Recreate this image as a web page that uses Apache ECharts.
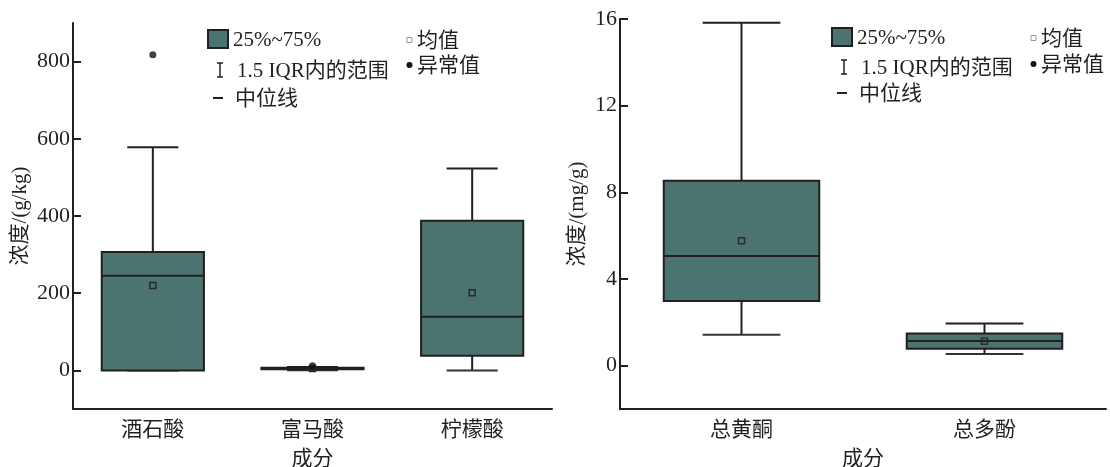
<!DOCTYPE html>
<html>
<head>
<meta charset="utf-8">
<script src="https://cdn.jsdelivr.net/npm/echarts@6/dist/echarts.min.js"></script>
<style>
  html, body { margin: 0; padding: 0; background: #fff; }
  #chart { width: 1110px; height: 467px; }
</style>
</head>
<body>
<div id="chart"></div>
<script>
// Organic acids (g/kg)
const acidCategories = ['酒石酸', '富马酸', '柠檬酸'];
const acidLow    = [0,   0.5, 0];
const acidQ1     = [0,   3,   38];
const acidMedian = [245, 5,   139];
const acidQ3     = [307, 7,   388];
const acidHigh   = [578, 8.5, 523];
const acidMean   = [220, 5,   201];
const acidOutliers = [[0, 818], [1, 12]];
const acidTicks  = [0, 200, 400, 600, 800];

// Flavonoids / polyphenols (mg/g)
const phenolCategories = ['总黄酮', '总多酚'];
const phenolLow    = [1.43, 0.54];
const phenolQ1     = [2.98, 0.78];
const phenolMedian = [5.06, 1.14];
const phenolQ3     = [8.53, 1.49];
const phenolHigh   = [15.83, 1.95];
const phenolMean   = [5.76, 1.13];
const phenolOutliers = [];
const phenolTicks  = [0, 4, 8, 12, 16];

const BOX_FILL = '#4b736f';
const INK = '#231f20';
const FONT = "'Liberation Serif', 'Noto Sans CJK SC', serif";

function boxRows(low, q1, med, q3, high, mean) {
  return low.map((v, i) => [i, v, q1[i], med[i], q3[i], high[i], mean[i]]);
}

function renderBox(params, api) {
  const c = api.value(0);
  const pLow = api.coord([c, api.value(1)]);
  const pQ1 = api.coord([c, api.value(2)]);
  const pMed = api.coord([c, api.value(3)]);
  const pQ3 = api.coord([c, api.value(4)]);
  const pHigh = api.coord([c, api.value(5)]);
  const pMean = api.coord([c, api.value(6)]);
  const band = api.size([1, 0])[0];
  const boxW = band * 0.64;
  const capW = band * 0.32;
  const x = pMed[0];
  const lineStyle = { stroke: INK, lineWidth: 2 };
  return {
    type: 'group',
    children: [
      { type: 'line', shape: { x1: x, y1: pQ3[1], x2: x, y2: pHigh[1] }, style: lineStyle },
      { type: 'line', shape: { x1: x, y1: pQ1[1], x2: x, y2: pLow[1] }, style: lineStyle },
      { type: 'line', shape: { x1: x - capW / 2, y1: pHigh[1], x2: x + capW / 2, y2: pHigh[1] }, style: lineStyle },
      { type: 'line', shape: { x1: x - capW / 2, y1: pLow[1], x2: x + capW / 2, y2: pLow[1] }, style: { stroke: '#333', lineWidth: 2 } },
      { type: 'rect', shape: { x: x - boxW / 2, y: pQ3[1], width: boxW, height: pQ1[1] - pQ3[1] },
        style: { fill: BOX_FILL, stroke: INK, lineWidth: 2 } },
      { type: 'line', shape: { x1: x - boxW / 2, y1: pMed[1], x2: x + boxW / 2, y2: pMed[1] }, style: lineStyle },
      { type: 'rect', shape: { x: x - 3, y: pMean[1] - 3, width: 6, height: 6 },
        style: { fill: 'none', stroke: '#2a2a2a', lineWidth: 1.5 } }
    ]
  };
}

function legend(bx, y1, y2, y3, yc1, yc2) {
  const t = (x, y, s) => ({ type: 'text', x: x, y: y,
    style: { text: s, font: '21px ' + FONT, fill: INK, verticalAlign: 'middle', align: 'left' } });
  const ln = (x1, yA, x2, yB, w) => ({ type: 'line', shape: { x1: x1, y1: yA, x2: x2, y2: yB },
    style: { stroke: INK, lineWidth: w || 1.5 } });
  return [
    { type: 'rect', shape: { x: bx, y: y1 - 9, width: 20, height: 18 },
      style: { fill: BOX_FILL, stroke: INK, lineWidth: 2 } },
    t(bx + 25, y1 + 1, '25%~75%'),
    ln(bx + 12, y2 - 7, bx + 12, y2 + 7),
    ln(bx + 9, y2 - 7, bx + 15, y2 - 7),
    ln(bx + 9, y2 + 7, bx + 15, y2 + 7),
    t(bx + 29, y2 + 1, '1.5 IQR内的范围'),
    ln(bx + 5, y3, bx + 15, y3, 2),
    t(bx + 27, y3 + 1, '中位线'),
    { type: 'rect', shape: { x: bx + 199, y: yc1 - 2.5, width: 5, height: 5 },
      style: { fill: '#fff', stroke: '#999', lineWidth: 1 } },
    t(bx + 209, yc1 + 1, '均值'),
    { type: 'circle', shape: { cx: bx + 201.5, cy: yc2, r: 3 }, style: { fill: '#111' } },
    t(bx + 209, yc2 + 1, '异常值')
  ];
}

function xAxisOpt(gridIndex, cats) {
  return {
    type: 'category', gridIndex: gridIndex, data: cats,
    name: '成分', nameLocation: 'middle', nameGap: 40,
    nameTextStyle: { fontFamily: FONT, fontSize: 21, color: INK },
    axisLine: { onZero: false, lineStyle: { color: INK, width: 2 } },
    axisTick: { alignWithLabel: true, inside: true, length: 8, lineStyle: { color: INK, width: 2 } },
    axisLabel: { fontFamily: FONT, fontSize: 21, color: INK, margin: 11 },
    splitLine: { show: false }
  };
}

function yAxisOpt(gridIndex, name, min, max, interval, ticks, gap) {
  return {
    type: 'value', gridIndex: gridIndex, min: min, max: max, interval: interval,
    name: name, nameLocation: 'middle', nameGap: gap,
    nameTextStyle: { fontFamily: FONT, fontSize: 21, color: INK },
    axisLine: { show: true, onZero: false, lineStyle: { color: INK, width: 2 } },
    axisTick: { show: true, inside: true, length: 8, customValues: ticks, lineStyle: { color: INK, width: 2 } },
    axisLabel: { fontFamily: FONT, fontSize: 22, color: INK, margin: 3, customValues: ticks },
    splitLine: { show: false }
  };
}

const chart = echarts.init(document.getElementById('chart'), null, { renderer: 'canvas' });
chart.setOption({
  backgroundColor: '#fff',
  animation: false,
  grid: [
    { left: 73, top: 23, width: 479, height: 386, containLabel: false, outerBoundsMode: 'none' },
    { left: 620, top: 19, width: 486, height: 390, containLabel: false, outerBoundsMode: 'none' }
  ],
  xAxis: [xAxisOpt(0, acidCategories), xAxisOpt(1, phenolCategories)],
  yAxis: [
    yAxisOpt(0, '浓度/(g/kg)', -100, 900, 100, acidTicks, 42),
    yAxisOpt(1, '浓度/(mg/g)', -2, 16, 2, phenolTicks, 32)
  ],
  series: [
    { type: 'custom', xAxisIndex: 0, yAxisIndex: 0, renderItem: renderBox,
      encode: { x: 0, y: [1, 2, 3, 4, 5, 6] },
      data: boxRows(acidLow, acidQ1, acidMedian, acidQ3, acidHigh, acidMean) },
    { type: 'scatter', xAxisIndex: 0, yAxisIndex: 0, symbol: 'circle', symbolSize: 7,
      itemStyle: { color: '#111' }, data: acidOutliers, z: 5 },
    { type: 'custom', xAxisIndex: 1, yAxisIndex: 1, renderItem: renderBox,
      encode: { x: 0, y: [1, 2, 3, 4, 5, 6] },
      data: boxRows(phenolLow, phenolQ1, phenolMedian, phenolQ3, phenolHigh, phenolMean) },
    { type: 'scatter', xAxisIndex: 1, yAxisIndex: 1, symbol: 'circle', symbolSize: 7,
      itemStyle: { color: '#111' }, data: phenolOutliers, z: 5 }
  ],
  graphic: legend(208, 39, 70, 98, 40, 65).concat(legend(832, 37, 67, 93, 38, 64))
});
</script>
</body>
</html>
